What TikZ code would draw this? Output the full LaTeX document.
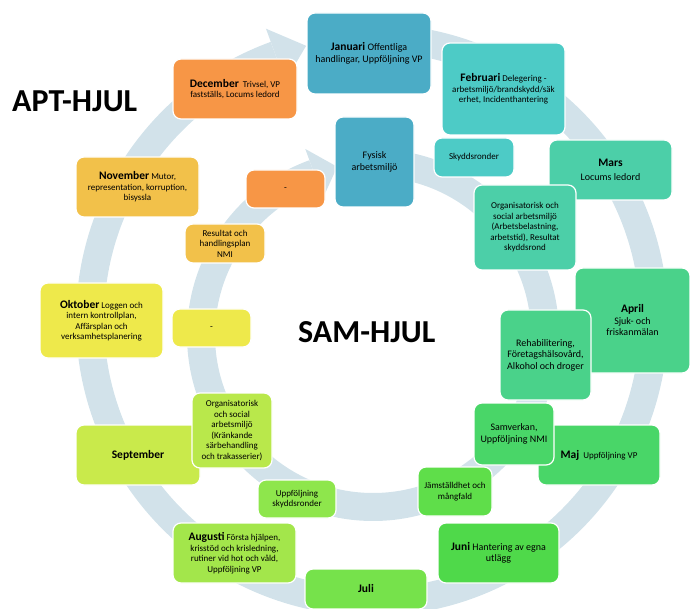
\documentclass[tikz,border=0pt]{standalone}
\usepackage{fontspec}
\setmainfont{Carlito}
\usetikzlibrary{calc}

\definecolor{ringblue}{RGB}{210,226,234}
\definecolor{cJan}{RGB}{75,172,198}
\definecolor{cFeb}{RGB}{77,203,198}
\definecolor{cMar}{RGB}{76,207,168}
\definecolor{cApr}{RGB}{74,210,138}
\definecolor{cMaj}{RGB}{73,214,104}
\definecolor{cJun}{RGB}{79,217,74}
\definecolor{cJams}{RGB}{95,222,74}
\definecolor{cJul}{RGB}{118,226,75}
\definecolor{cUppf}{RGB}{142,230,76}
\definecolor{cAug}{RGB}{163,230,75}
\definecolor{cOrgK}{RGB}{185,232,75}
\definecolor{cSep}{RGB}{201,234,75}
\definecolor{cOkt}{RGB}{238,233,75}
\definecolor{cNov}{RGB}{242,193,74}
\definecolor{cDec}{RGB}{247,150,70}

\newcommand\mon[1]{{\fontsize{11.5}{12.5}\selectfont\bfseries #1}}

\begin{document}
\begin{tikzpicture}[x=1pt,y=1pt,
    card/.style={draw=white, line width=1.2pt, rounded corners=8pt, align=center,
        inner sep=2pt, font=\fontsize{9}{10.5}\selectfont},
    bigcard/.style={card, font=\fontsize{10}{11.5}\selectfont},
    ring/.style={color=ringblue, line width=28pt},
    title/.style={font=\fontsize{32}{32}\selectfont\bfseries, anchor=base west, inner sep=0pt}]
    \useasboundingbox (0,0) rectangle (690,-609);

    % the two wheels
    \coordinate (oc) at (372,-320);
    \coordinate (ic) at (373,-335);
    \draw[ring] ($(oc)+(88:282)$) arc[start angle=88, end angle=-250, radius=282];
    \fill[ringblue] ($(oc)+(110:254)$) -- ($(oc)+(103.5:282)$) -- ($(oc)+(110:310)$) -- cycle;
    \draw[ring] ($(ic)+(88:172)$) arc[start angle=88, end angle=-250, radius=172];
    \fill[ringblue] ($(ic)+(110:146)$) -- ($(ic)+(102:172)$) -- ($(ic)+(110:198)$) -- cycle;

    % months, APT
    \node[bigcard, fill=cJan, minimum width=124, minimum height=81] (jan) at (369,-53.5)
        {\mon{Januari}\ Offentliga\\handlingar, Uppföljning VP};
    \node[card, fill=cFeb, minimum width=123, minimum height=92] (feb) at (503.5,-89)
        {\mon{Februari} Delegering -\\arbetsmiljö/brandskydd/säk\\erhet, Incidenthantering};
    \node[bigcard, fill=cMar, minimum width=123, minimum height=60] (mar) at (610.5,-170)
        {\mon{Mars}\\[2pt]Locums ledord};
    \node[bigcard, fill=cApr, minimum width=115, minimum height=105] (apr) at (632.5,-320.5)
        {\mon{April}\\Sjuk- och\\friskanmälan};
    \node[card, fill=cMaj, minimum width=122, minimum height=60] (maj) at (599,-455)
        {\mon{Maj}\ \ Uppföljning VP};
    \node[bigcard, fill=cJun, minimum width=121, minimum height=60] (jun) at (498.5,-553)
        {\mon{Juni}\ Hantering av egna\\utlägg};
    \node[card, fill=cJul, minimum width=122, minimum height=40] (jul) at (366,-589)
        {\mon{Juli}};
    \node[card, fill=cAug, minimum width=123, minimum height=60] (aug) at (234.5,-553)
        {\mon{Augusti}\ Första hjälpen,\\krisstöd och krisledning,\\rutiner vid hot och våld,\\Uppföljning VP};
    \node[card, fill=cSep, minimum width=124, minimum height=60] (sep) at (138,-455)
        {\mon{September}};
    \node[card, fill=cOkt, minimum width=123, minimum height=75] (okt) at (101.5,-320.5)
        {\mon{Oktober} Loggen och\\intern kontrollplan,\\Affärsplan och\\verksamhetsplanering};
    \node[card, fill=cNov, minimum width=123, minimum height=60] (nov) at (137.5,-187)
        {\mon{November} Mutor,\\representation, korruption,\\bisyssla};
    \node[card, fill=cDec, minimum width=124, minimum height=60] (dec) at (235,-89)
        {\mon{December}\ \ Trivsel, VP\\fastställs, Locums ledord};

    % SAM
    \node[bigcard, fill=cJan, minimum width=79, minimum height=90] (fys) at (374.5,-162)
        {Fysisk\\arbetsmiljö};
    \node[card, fill=cFeb, minimum width=80, minimum height=39] (skydd) at (474,-157.5)
        {Skyddsronder};
    \node[card, fill=cMar, minimum width=102, minimum height=85] (orga) at (525,-227.5)
        {Organisatorisk och\\social arbetsmiljö\\(Arbetsbelastning,\\arbetstid), Resultat\\skyddsrond};
    \node[bigcard, fill=cApr, minimum width=91, minimum height=90] (rehab) at (545.5,-355)
        {Rehabilitering,\\Företagshälsovård,\\Alkohol och droger};
    \node[bigcard, fill=cMaj, minimum width=80, minimum height=62] (samv) at (514,-434)
        {Samverkan,\\Uppföljning NMI};
    \node[card, fill=cJams, minimum width=74, minimum height=49] (jams) at (455,-491.5)
        {Jämställdhet och\\mångfald};
    \node[card, fill=cUppf, minimum width=78, minimum height=38] (uppf) at (297,-499)
        {Uppföljning\\skyddsronder};
    \node[card, fill=cOrgK, minimum width=80, minimum height=75] (orgk) at (232,-430.5)
        {Organisatorisk\\och social\\arbetsmiljö\\(Kränkande\\särbehandling\\och trakasserier)};
    \node[card, fill=cOkt, minimum width=79, minimum height=38] (dashy) at (211.5,-328) {-};
    \node[card, fill=cNov, minimum width=80, minimum height=39] (res) at (225,-243.5)
        {Resultat och\\handlingsplan\\NMI};
    \node[card, fill=cDec, minimum width=79, minimum height=38] (dasho) at (285.5,-189) {-};

    \node[title] (apt) at (12,-112) {APT-HJUL};
    \node[title] (sam) at (298,-342) {SAM-HJUL};
\end{tikzpicture}
\end{document}
